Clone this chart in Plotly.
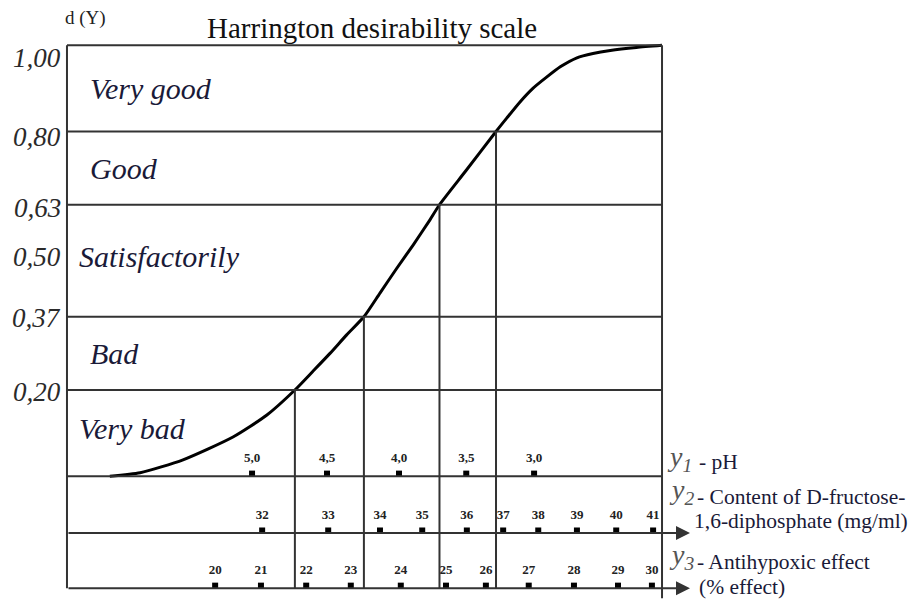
import plotly.graph_objects as go

# ---- data (abstract horizontal scale 0..100) ----
curve_x = [7.2, 12.3, 19.5, 27.9, 33.6, 38.3, 41.3, 44.2, 47.0, 49.9, 52.6, 55.4, 58.2, 61.0, 62.6,
           67.1, 72.1, 73.9, 76.1, 78.3, 80.6, 82.9, 85.7, 88.4, 91.3, 95.7, 100.0]
curve_d = [0.0, 0.008, 0.038, 0.091, 0.142, 0.20, 0.243, 0.285, 0.328, 0.37, 0.425, 0.482, 0.537, 0.595, 0.63,
           0.71, 0.80, 0.831, 0.868, 0.900, 0.926, 0.950, 0.971, 0.981, 0.988, 0.995, 1.0]

levels = [0.20, 0.37, 0.63, 0.80, 1.00]
level_labels = ["0,20", "0,37", "0,63", "0,80", "1,00"]
extra_label_vals = [0.50]
extra_label_text = ["0,50"]

band_names = ["Very bad", "Bad", "Satisfactorily", "Good", "Very good"]
band_lo = [0.00, 0.20, 0.37, 0.63, 0.80]
band_hi = [0.20, 0.37, 0.63, 0.80, 1.00]

drop_x = [38.3, 49.9, 62.6, 72.1]
drop_d = [0.20, 0.37, 0.63, 0.80]

ph_pos = [31.1, 43.7, 55.8, 67.1, 78.5]
ph_text = ["5,0", "4,5", "4,0", "3,5", "3,0"]

fdp_pos = [32.8, 43.9, 52.6, 59.7, 67.2, 73.3, 79.2, 85.7, 92.3, 98.5]
fdp_text = ["32", "33", "34", "35", "36", "37", "38", "39", "40", "41"]

eff_pos = [24.9, 32.6, 40.2, 47.7, 56.1, 63.7, 70.4, 77.6, 85.2, 92.6, 98.3]
eff_text = ["20", "21", "22", "23", "24", "25", "26", "27", "28", "29", "30"]

# ---- layout constants ----
SERIF = "Liberation Serif, Times New Roman, serif"
LINE = "#333333"
TEXT = "#1a1a38"
Y1, Y2, Y3 = 0.0, -0.132, -0.26
XMAX = 100.0

ML, MT, MR, MB = 56, 33, 255, 1
W, H = 912, 592
PW, PH = W - ML - MR, H - MT - MB
OFF = 8  # page body margin


def PX(px):  # screen pixel -> paper x (text placement only)
    return (px - OFF - ML) / PW


def PY(py):  # screen pixel -> paper y (text placement only)
    return 1 - (py - OFF - MT) / PH


fig = go.Figure()

# curve
fig.add_trace(go.Scatter(x=curve_x, y=curve_d, mode="lines",
                         line=dict(color="black", width=3, shape="spline", smoothing=0.6),
                         hoverinfo="skip", showlegend=False))

shapes = []


def hline(y, x0, x1, w=2):
    shapes.append(dict(type="line", xref="x", yref="y", x0=x0, x1=x1, y0=y, y1=y,
                       line=dict(color=LINE, width=w)))


def vline(x, y0, y1, w=2):
    shapes.append(dict(type="line", xref="x", yref="y", x0=x, x1=x, y0=y0, y1=y1,
                       line=dict(color=LINE, width=w)))


for lv in levels:
    hline(lv, 0, XMAX)
hline(Y1, 0, XMAX)
vline(0, 1.0, Y3)
vline(XMAX, 1.0, -0.283)
for xv, dv in zip(drop_x, drop_d):
    vline(xv, dv, Y3)

annotations = []
# arrows for y2, y3 axes
for yy in (Y2, Y3):
    annotations.append(dict(x=104.7, y=yy, ax=0, ay=yy, xref="x", yref="y", axref="x", ayref="y",
                            text="", showarrow=True, arrowhead=2, arrowsize=1.4, arrowwidth=2,
                            arrowcolor=LINE, standoff=0, startstandoff=0))


# tick markers and labels
def ticks(pos, txt, level):
    fig.add_trace(go.Scatter(x=pos, y=[level + 0.006] * len(pos), mode="markers",
                             marker=dict(symbol="square", size=6, color="black"),
                             hoverinfo="skip", showlegend=False, cliponaxis=False))
    fig.add_trace(go.Scatter(x=pos, y=[level + 0.041] * len(pos), mode="text",
                             text=["<b>" + t + "</b>" for t in txt], textposition="middle center",
                             textfont=dict(family=SERIF, size=13, color="#222"),
                             hoverinfo="skip", showlegend=False, cliponaxis=False))


ticks(ph_pos, ph_text, Y1)
ticks(fdp_pos, fdp_text, Y2)
ticks(eff_pos, eff_text, Y3)

# y labels (centre positions measured on screen)
label_center = {"1,00": 58, "0,80": 137, "0,63": 208, "0,50": 257, "0,37": 318, "0,20": 392}
for v, t in list(zip(levels, level_labels)) + list(zip(extra_label_vals, extra_label_text)):
    annotations.append(dict(x=PX(63), y=PY(label_center[t]), xref="paper", yref="paper",
                            text="<i>" + t + "</i>", showarrow=False,
                            xanchor="right", yanchor="middle",
                            font=dict(family=SERIF, size=27, color="#2a2a2a")))

# band names
band_left = {"Very good": 88, "Good": 88, "Satisfactorily": 77, "Bad": 88, "Very bad": 77}
band_shift = {"Very good": 0, "Good": 0, "Satisfactorily": 4, "Bad": 0, "Very bad": 5}
for name, lo, hi in zip(band_names, band_lo, band_hi):
    annotations.append(dict(x=PX(band_left[name]), y=(lo + hi) / 2, xref="paper", yref="y",
                            text="<i>" + name + "</i>", yshift=band_shift[name],
                            showarrow=False, xanchor="left", yanchor="middle",
                            font=dict(family=SERIF, size=30, color=TEXT)))

# title and d(Y)
annotations.append(dict(x=PX(372), y=PY(28), xref="paper", yref="paper", text="Harrington desirability scale",
                        showarrow=False, xanchor="center", yanchor="middle",
                        font=dict(family=SERIF, size=29, color="#111")))
annotations.append(dict(x=PX(85), y=PY(18), xref="paper", yref="paper", text="d (Y)",
                        showarrow=False, xanchor="center", yanchor="middle",
                        font=dict(family=SERIF, size=19, color="#222")))

# right-hand axis names
right = [
    (665, 458, "1", [("- pH", 697, 462)]),
    (667, 491, "2", [("- Content of D-fructose-", 695, 497), ("1,6-diphosphate (mg/ml)", 692, 521)]),
    (667, 556, "3", [("- Antihypoxic effect", 695, 562), ("(% effect)", 697, 587)]),
]
for yx, yy, sub, lines in right:
    annotations.append(dict(x=PX(yx), y=PY(yy), xref="paper", yref="paper",
                            text="<i>y<sub>" + sub + "</sub></i>",
                            showarrow=False, xanchor="left", yanchor="middle",
                            font=dict(family=SERIF, size=28, color="#555")))
    for t, lx, ly in lines:
        annotations.append(dict(x=PX(lx), y=PY(ly), xref="paper", yref="paper", text=t,
                                showarrow=False, xanchor="left", yanchor="middle",
                                font=dict(family=SERIF, size=21.5, color=TEXT)))

fig.update_layout(
    width=W, height=H,
    margin=dict(l=ML, r=MR, t=MT, b=MB),
    paper_bgcolor="white", plot_bgcolor="white",
    xaxis=dict(range=[-0.5, 100.5], visible=False, fixedrange=True),
    yaxis=dict(range=[-0.285, 1.01], visible=False, fixedrange=True),
    shapes=shapes, annotations=annotations, showlegend=False,
)

fig.write_html("out.html")
